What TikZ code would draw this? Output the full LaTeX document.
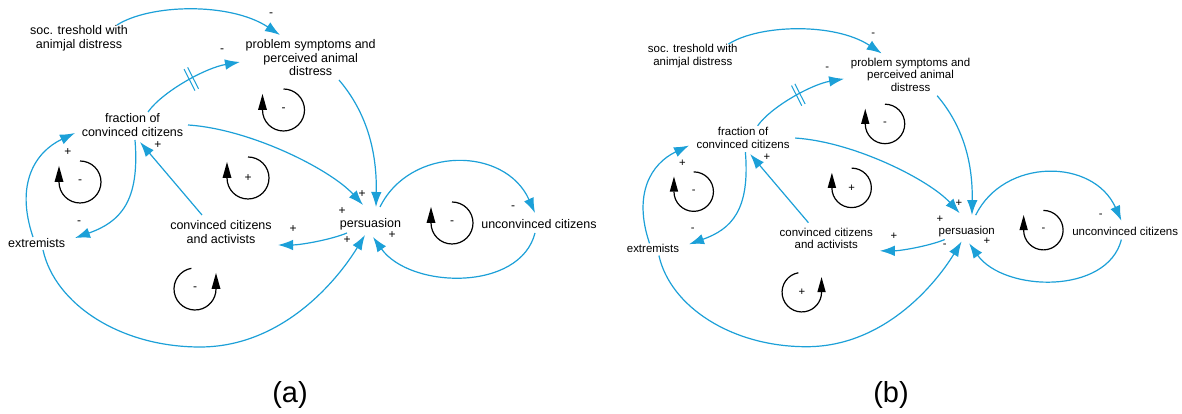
\documentclass[tikz,border=0pt]{standalone}
\usepackage{fontspec}
\setmainfont{Liberation Sans}
\usetikzlibrary{arrows.meta}
\definecolor{cldblue}{RGB}{28,160,216}
\tikzset{
  txt/.style={font=\fontsize{12.5}{13.8}\selectfont, align=center, inner sep=0pt},
  sgn/.style={font=\fontsize{12}{12}\selectfont, inner sep=0pt},
  conn/.style={draw=cldblue, line width=1.2pt, -{Latex[length=15pt,width=10.5pt]}},
  loopline/.style={draw=black, line width=1.2pt},
  loopcw/.pic={
    \draw[loopline] (90:21) arc[start angle=90, end angle=-180, radius=21];
    \fill[black] (-25.5,0) -- (-16.5,0) -- (-21,16) -- cycle;
    \node[sgn] (-sign) at (0,0) {#1};
  },
  loopccw/.pic={
    \draw[loopline] (100:21) arc[start angle=100, end angle=360, radius=21];
    \fill[black] (16.5,0) -- (25.5,0) -- (21,16) -- cycle;
    \node[sgn] (-sign) at (0,0) {#1};
  },
  delaymark/.pic={
    \draw[cldblue, line width=1pt] (-2,-12) -- (-2,12);
    \draw[cldblue, line width=1pt] (2,-12) -- (2,12);
  },
  panellabel/.style={font=\fontsize{29}{30}\selectfont, inner sep=0pt},
}
\newcommand\cldpanel[2]{%
  \node[txt] (soc) at (79,376) {soc. treshold with\\animjal distress};
  \node[txt] (prob) at (310.7,356.3) {problem symptoms and\\perceived animal\\distress};
  \node[txt] (fr) at (132.5,289.3) {fraction of\\convinced citizens};
  \node[txt] (ext) at (36.7,171.2) {extremists};
  \node[txt] (cca) at (221,182.3) {convinced citizens\\and activists};
  \node[txt] (pers) at (370.5,190) {persuasion};
  \node[txt] (unc) at (539,190.2) {unconvinced citizens};
  % connectors
  \draw[conn] ([shift={(38,13)}]soc.center) .. controls (150,410) and (230,412) .. ([shift={(-30.7,22.7)}]prob.center);
  \draw[conn] ([shift={(15.5,12.7)}]fr.center) .. controls (162,322) and (205,346) .. ([shift={(-70.7,-4.3)}]prob.center);
  \pic[rotate=27] at (191.3,335) {delaymark};
  \draw[conn] ([shift={(55.5,-0.3)}]fr.center) .. controls (250,285) and (330,245) .. ([shift={(-7.5,19)}]pers.center);
  \draw[conn] ([shift={(28.3,-22.3)}]prob.center) .. controls (368,300) and (377,260) .. ([shift={(5.5,17)}]pers.center);
  \draw[conn] ([shift={(9.5,17)}]pers.center) .. controls (410,268) and (505,268) .. ([shift={(-4,10.8)}]unc.center);
  \draw[conn] ([shift={(-4,-9.2)}]unc.center) .. controls (520,122) and (410,125) .. ([shift={(2.5,-13)}]pers.center);
  \draw[conn] ([shift={(-23.5,-9)}]pers.center) .. controls (330,174) and (300,169) .. ([shift={(57,-13.3)}]cca.center);
  \draw[conn] ([shift={(-19,16.7)}]cca.center) -- ([shift={(7.5,-17.3)}]fr.center);
  \draw[conn] ([shift={(2.5,-15.3)}]fr.center) .. controls (140,212) and (120,192) .. ([shift={(38.3,4.8)}]ext.center);
  \draw[conn] ([shift={(-3.7,5.8)}]ext.center) .. controls (15,230) and (35,262) .. ([shift={(-57.5,-8.3)}]fr.center);
  \draw[conn] ([shift={(6.3,-7.2)}]ext.center) .. controls (55,110) and (120,67) .. (200,67) .. controls (280,67) and (335,130) .. ([shift={(-5.5,-11)}]pers.center);
  % polarity signs
  \node[sgn] (s1) at (271,399) {-};
  \node[sgn] (s2) at (222,363) {-};
  \node[sgn] (s3) at (362,220) {+};
  \node[sgn] (s4) at (342,203) {+};
  \node[sgn] (s5) at (347,174) {#2};
  \node[sgn] (s6) at (392,179) {+};
  \node[sgn] (s7) at (293,185) {+};
  \node[sgn] (s8) at (513,206) {-};
  \node[sgn] (s9) at (158,269) {+};
  \node[sgn] (s10) at (79,191) {-};
  \node[sgn] (s11) at (68,262) {+};
  % loop markers
  \pic (L1) at (283.5,304) {loopcw=-};
  \pic (L2) at (80,232) {loopcw=-};
  \pic (L3) at (248,236) {loopcw=+};
  \pic (L4) at (452,191) {loopcw=-};
  \pic (L5) at (195,125) {loopccw=#1};
}
\begin{document}
\begin{tikzpicture}[x=1pt,y=1pt]
  \useasboundingbox (0,0) rectangle (1182,414);
  \fill[white] (0,0) rectangle (1182,414);
  \begin{scope}[name prefix=a-]
    \cldpanel{-}{+}
  \end{scope}
  \begin{scope}[shift={(618.5,4.3)}, scale=0.94, transform shape, name prefix=b-,
      txt/.style={font=\fontsize{12.2}{13.5}\selectfont, align=center, inner sep=0pt}]
    \cldpanel{+}{-}
  \end{scope}
  \node[panellabel] (cap-a) at (290,19) {(a)};
  \node[panellabel] (cap-b) at (891,19) {(b)};
\end{tikzpicture}
\end{document}
